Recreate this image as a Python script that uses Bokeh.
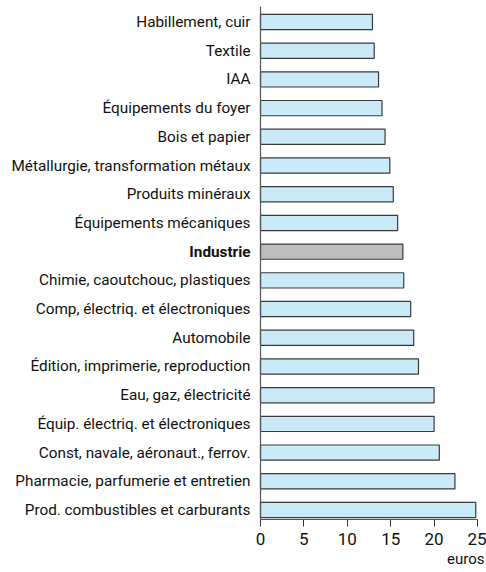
from bokeh.plotting import figure
from bokeh.models import Range1d, FixedTicker, Span, ColumnDataSource, Title
from bokeh.core.properties import value
from bokeh.embed import file_html
from bokeh.resources import INLINE

# Categories listed top to bottom
categories = [
    "Habillement, cuir",
    "Textile",
    "IAA",
    "Équipements du foyer",
    "Bois et papier",
    "Métallurgie, transformation métaux",
    "Produits minéraux",
    "Équipements mécaniques",
    "Industrie",
    "Chimie, caoutchouc, plastiques",
    "Comp, électriq. et électroniques",
    "Automobile",
    "Édition, imprimerie, reproduction",
    "Eau, gaz, électricité",
    "Équip. électriq. et électroniques",
    "Const, navale, aéronaut., ferrov.",
    "Pharmacie, parfumerie et entretien",
    "Prod. combustibles et carburants",
]
values = [12.9, 13.1, 13.6, 14.0, 14.35, 14.9, 15.3, 15.8, 16.4, 16.5,
          17.3, 17.65, 18.2, 20.0, 20.0, 20.6, 22.4, 24.8]
highlight = "Industrie"
x_ticks = [0, 5, 10, 15, 20, 25]
x_unit = "euros"

FONT = "Roboto"
FS = "15.3px"
n = len(categories)
ypos = [n - 1 - i for i in range(n)]
colors = ["#bdbdbd" if c == highlight else "#c8eaf9" for c in categories]

# layout (pixels)
W, H = 486, 572
zero_px = 260          # where x = 0 lies
tick_max_px = 477      # where x = 25 lies
frame_right = 484
x_max = 25
scale = (tick_max_px - zero_px) / x_max
x_start = -zero_px / scale
x_end = x_max + (frame_right - tick_max_px) / scale

p = figure(width=W, height=H, output_backend="svg", toolbar_location=None,
           x_range=Range1d(x_start, x_end), y_range=Range1d(-0.33, n - 1 + 0.54),
           y_axis_location=None,
           min_border_left=0, min_border_right=W - frame_right, min_border_top=6,
           min_border_bottom=53)
p.outline_line_color = None
p.grid.grid_line_color = None
p.background_fill_color = "white"
p.border_fill_color = "white"

p.hbar(y=ypos, right=values, left=0, height=0.53, fill_color=colors,
       line_color="#3a3a3a", line_width=1.2)

p.add_layout(Span(location=0, dimension="height", line_color="#555555", line_width=1.2))

normal = ColumnDataSource(dict(x=[0] * (n - 1), y=[y for y, c in zip(ypos, categories) if c != highlight],
                               t=[c for c in categories if c != highlight]))
bold = ColumnDataSource(dict(x=[0], y=[ypos[categories.index(highlight)]], t=[highlight]))
p.text(x="x", y="y", text="t", source=normal, x_offset=-10, text_align="right",
       text_baseline="middle", text_font=value(FONT), text_font_size=FS, text_color="#111111")
p.text(x="x", y="y", text="t", source=bold, x_offset=-10, text_align="right",
       text_baseline="middle", text_font=value(FONT), text_font_size=FS,
       text_font_style="bold", text_color="#111111")

xax = p.xaxis[0]
xax.bounds = (0, x_max)
xax.ticker = FixedTicker(ticks=x_ticks)
xax.minor_tick_line_color = None
xax.major_tick_in = 0
xax.major_tick_out = 7
xax.major_tick_line_color = "#333333"
xax.axis_line_color = "#555555"
xax.axis_line_width = 1.2
xax.major_label_text_font = FONT
xax.major_label_text_font_size = "17px"
xax.major_label_text_color = "#111111"
xax.major_label_standoff = 6

p.add_layout(Title(text=x_unit, align="right", text_font=FONT, text_font_size="15px",
                   text_font_style="normal", text_color="#111111", standoff=0,
                   offset=0), "below")

open("out.html", "w").write(file_html(p, INLINE))
